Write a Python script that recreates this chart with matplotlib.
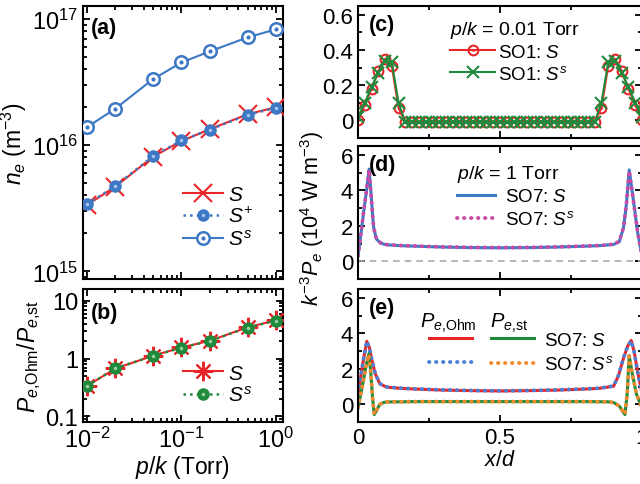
import numpy as np
import matplotlib
matplotlib.use("Agg")
import matplotlib.pyplot as plt
from matplotlib.legend_handler import HandlerTuple
from matplotlib.ticker import MultipleLocator, LogLocator, NullFormatter, FixedLocator, FixedFormatter

plt.rcParams.update({
    "font.family": ["Liberation Sans", "DejaVu Sans"],
    "mathtext.fontset": "custom",
    "mathtext.rm": "Liberation Sans",
    "mathtext.it": "Liberation Sans:italic",
    "mathtext.bf": "Liberation Sans:bold",
    "font.size": 15,
    "axes.linewidth": 1.5,
})

RED = "#e8262a"
BLUE = "#3d78c4"
GREEN = "#1f8a3c"
MAGENTA = "#c94aa4"
ORANGE = "#f5892b"

# ---- (a), (b): sweep over p/k ----
pk = [0.01, 0.02, 0.05, 0.1, 0.2, 0.5, 1.0]
ne_S = [3.36e15, 4.7e15, 8.1e15, 1.08e16, 1.34e16, 1.76e16, 2.0e16]
ne_Splus = [3.4e15, 4.75e15, 8.2e15, 1.09e16, 1.33e16, 1.74e16, 1.98e16]
ne_Ss = [1.39e16, 1.95e16, 3.34e16, 4.53e16, 5.55e16, 7.16e16, 8.3e16]
ratio_S = [0.337, 0.675, 1.12, 1.56, 2.04, 3.48, 4.6]
ratio_Ss = [0.335, 0.68, 1.11, 1.55, 2.02, 3.45, 4.55]

# ---- (c): p/k = 0.01 Torr, SO1 ----
xc = np.linspace(0, 1, 43)
c_S = [0.0, 0.09, 0.18, 0.28, 0.35, 0.31, 0.07, -0.01, -0.01, -0.01, -0.01,
       -0.01, -0.01, -0.01, -0.01, -0.01, -0.01, -0.01, -0.01, -0.01, -0.01,
       -0.01, -0.01, -0.01, -0.01, -0.01, -0.01, -0.01, -0.01, -0.01, -0.01,
       -0.01, -0.01, -0.01, -0.01, -0.01, 0.07, 0.31, 0.35, 0.28, 0.18, 0.09, 0.0]
c_Ss = [0.02, 0.1, 0.19, 0.27, 0.34, 0.33, 0.1, -0.01, -0.01, -0.01, -0.01,
        -0.01, -0.01, -0.01, -0.01, -0.01, -0.01, -0.01, -0.01, -0.01, -0.01,
        -0.01, -0.01, -0.01, -0.01, -0.01, -0.01, -0.01, -0.01, -0.01, -0.01,
        -0.01, -0.01, -0.01, -0.01, -0.01, 0.1, 0.33, 0.34, 0.27, 0.19, 0.1, 0.02]

# ---- (d): p/k = 1 Torr, SO7 ----
xd = [0, 0.01, 0.02, 0.03, 0.039, 0.045, 0.05, 0.055, 0.065, 0.08, 0.1, 0.15,
      0.2, 0.3, 0.4, 0.5, 0.6, 0.7, 0.8, 0.85, 0.9, 0.92, 0.935, 0.945, 0.955,
      0.965, 0.975, 0.985, 1.0]
d_S = [0.3, 1.5, 2.8, 4.0, 5.2, 4.0, 2.9, 1.9, 1.25, 1.02, 0.93, 0.88,
       0.85, 0.8, 0.77, 0.76, 0.77, 0.8, 0.85, 0.88, 0.95, 1.1, 1.9, 3.2, 5.15,
       4.0, 2.8, 1.6, 0.3]
d_Ss = [0.32, 1.52, 2.82, 4.0, 5.15, 3.95, 2.88, 1.9, 1.26, 1.03, 0.94, 0.89,
        0.86, 0.81, 0.78, 0.77, 0.78, 0.81, 0.86, 0.89, 0.96, 1.12, 1.92, 3.2,
        5.1, 3.95, 2.8, 1.6, 0.32]

# ---- (e): SO7 Ohmic and stochastic heating ----
xe_ohm = [0, 0.01, 0.02, 0.031, 0.04, 0.048, 0.06, 0.077, 0.1, 0.15, 0.2, 0.3,
          0.4, 0.5, 0.6, 0.7, 0.8, 0.85, 0.9, 0.917, 0.935, 0.95, 0.962, 0.972,
          0.985, 1.0]
ohm_S = [0.6, 1.6, 2.6, 3.55, 3.2, 2.55, 1.75, 1.15, 0.97, 0.9, 0.86, 0.8,
         0.77, 0.75, 0.77, 0.8, 0.86, 0.9, 1.02, 1.6, 2.6, 3.3, 3.6, 3.0,
         1.8, 0.6]
ohm_Ss = [0.62, 1.62, 2.62, 3.55, 3.2, 2.55, 1.76, 1.16, 0.98, 0.91, 0.87, 0.81,
          0.78, 0.76, 0.78, 0.81, 0.87, 0.91, 1.03, 1.62, 2.62, 3.3, 3.58, 3.0,
          1.8, 0.62]
xe_st = [0, 0.015, 0.03, 0.038, 0.045, 0.051, 0.057, 0.065, 0.077, 0.09, 0.1,
         0.2, 0.3, 0.4, 0.5, 0.6, 0.7, 0.8, 0.88, 0.9, 0.92, 0.94, 0.948, 0.955,
         0.965, 0.98, 1.0]
st_S = [-0.2, 1.0, 2.3, 2.85, 1.8, 0.4, -0.58, -0.35, 0.0, 0.1, 0.13,
        0.15, 0.15, 0.15, 0.15, 0.15, 0.15, 0.15, 0.14, 0.1, -0.1, -0.58, 0.6, 2.75,
        1.8, 0.6, -0.2]
st_Ss = [-0.18, 1.0, 2.3, 2.8, 1.8, 0.42, -0.56, -0.34, 0.0, 0.1, 0.13,
         0.15, 0.15, 0.15, 0.15, 0.15, 0.15, 0.15, 0.14, 0.1, -0.1, -0.56, 0.6, 2.7,
         1.8, 0.6, -0.18]

LEFT_TICK = 17
RIGHT_TICK = 16
TUP = {tuple: HandlerTuple(ndivide=1)}


def style(ax, size):
    ax.tick_params(which="both", direction="in", top=True, right=True, width=1.3,
                   labelsize=size)
    ax.tick_params(which="major", length=5)
    ax.tick_params(which="minor", length=3)


fig = plt.figure(figsize=(6.4, 4.85), dpi=100)
ax_a = fig.add_axes([0.1297, 0.4227, 0.3125, 0.5629])
ax_b = fig.add_axes([0.1297, 0.1278, 0.3125, 0.2742])
ax_c = fig.add_axes([0.5594, 0.7134, 0.4437, 0.2722])
ax_d = fig.add_axes([0.5594, 0.4227, 0.4437, 0.2742])
ax_e = fig.add_axes([0.5594, 0.1278, 0.4437, 0.2742])

# (a)
l_S, = ax_a.plot(pk, ne_S, color=RED, lw=1.5, marker="x", ms=13, mew=1.5, zorder=3)
l_Sp, = ax_a.plot(pk, ne_Splus, color=BLUE, lw=1.8, ls=":", marker="o", ms=8,
                  mfc=BLUE, mec=BLUE, zorder=4)
l_Sp2, = ax_a.plot(pk, ne_Splus, ls="none", marker="o", ms=2.5, mfc="#a9c6ee",
                   mec="none", zorder=5)
l_Ss, = ax_a.plot(pk, ne_Ss, color=BLUE, lw=1.5, marker="o", ms=9, mfc="white",
                  mec=BLUE, mew=1.8, zorder=3)
l_Ss2, = ax_a.plot(pk, ne_Ss, ls="none", marker="o", ms=3, mfc=BLUE, mec="none",
                   zorder=4)
ax_a.set_xscale("log")
ax_a.set_yscale("log")
ax_a.set_xlim(0.00908, 1.186)
ax_a.set_ylim(8.7e14, 1.27e17)
ax_a.set_xticklabels([])
ax_a.xaxis.set_minor_formatter(NullFormatter())
ax_a.yaxis.set_minor_locator(LogLocator(subs=np.arange(2, 10)))
ax_a.yaxis.set_minor_formatter(NullFormatter())
ax_a.set_ylabel(r"$n_e$ (m$^{-3}$)", fontsize=16.5, labelpad=2)
ax_a.text(0.04, 0.96, "(a)", transform=ax_a.transAxes, fontweight="bold",
          fontsize=15.5, va="top", ha="left")
ax_a.legend([l_S, (l_Sp, l_Sp2), (l_Ss, l_Ss2)], [r"$S$", r"$S^{+}$", r"$S^{s}$"],
            handler_map=TUP, loc="upper left", bbox_to_anchor=(0.5, 0.345),
            frameon=False, fontsize=15, borderpad=0, borderaxespad=0,
            handlelength=1.9, handletextpad=0.25, labelspacing=0.12)
style(ax_a, LEFT_TICK)

# (b)
m_S, = ax_b.plot(pk, ratio_S, color=RED, lw=1.5, marker=(8, 2, 0), ms=14, mew=1.5,
                 zorder=3)
m_Ss, = ax_b.plot(pk, ratio_Ss, color=GREEN, lw=1.8, ls=":", marker="o", ms=8,
                  mfc=GREEN, mec=GREEN, zorder=4)
m_Ss2, = ax_b.plot(pk, ratio_Ss, ls="none", marker="o", ms=2.5, mfc="#9ad2a6",
                   mec="none", zorder=5)
ax_b.set_xscale("log")
ax_b.set_yscale("log")
ax_b.set_xlim(0.00908, 1.186)
ax_b.set_ylim(0.08, 16)
ax_b.yaxis.set_major_locator(FixedLocator([0.1, 1, 10]))
ax_b.yaxis.set_major_formatter(FixedFormatter(["0.1", "1", "10"]))
ax_b.yaxis.set_minor_locator(LogLocator(subs=np.arange(2, 10)))
ax_b.yaxis.set_minor_formatter(NullFormatter())
ax_b.xaxis.set_minor_formatter(NullFormatter())
ax_b.set_xlabel(r"$p/k$ (Torr)", fontsize=16.5, labelpad=1)
ax_b.set_ylabel(r"$P_{e{,}\mathrm{Ohm}}/P_{e{,}\mathrm{st}}$", fontsize=16.5,
                labelpad=2)
ax_b.text(0.04, 0.9, "(b)", transform=ax_b.transAxes, fontweight="bold",
          fontsize=15.5, va="top", ha="left")
ax_b.legend([m_S, (m_Ss, m_Ss2)], [r"$S$", r"$S^{s}$"],
            handler_map=TUP, loc="upper left", bbox_to_anchor=(0.5, 0.44),
            frameon=False, fontsize=15, borderpad=0, borderaxespad=0,
            handlelength=1.9, handletextpad=0.25, labelspacing=0.12)
style(ax_b, LEFT_TICK)

# (c)
c1, = ax_c.plot(xc, c_S, color=RED, lw=1.5, marker="o", ms=7, mfc="none",
                mec=RED, mew=1.5)
c1b, = ax_c.plot(xc, c_S, ls="none", marker="o", ms=2, mfc=RED, mec="none")
c2, = ax_c.plot(xc, c_Ss, color=GREEN, lw=1.5, marker="x", ms=9, mew=1.5)
ax_c.set_ylim(-0.1, 0.65)
ax_c.yaxis.set_major_locator(FixedLocator([0, 0.2, 0.4, 0.6]))
ax_c.yaxis.set_major_formatter(FixedFormatter(["0", "0.2", "0.4", "0.6"]))
ax_c.yaxis.set_minor_locator(MultipleLocator(0.1))
ax_c.text(0.04, 0.94, "(c)", transform=ax_c.transAxes, fontweight="bold",
          fontsize=15.5, va="top", ha="left")
ax_c.legend([(c1, c1b), c2], [r"SO1: $S$", r"SO1: $S^{s}$"], handler_map=TUP,
            title=r"$p/k$ = 0.01 Torr", title_fontsize=14, fontsize=13.5,
            alignment="left", loc="upper left", bbox_to_anchor=(0.324, 0.9),
            frameon=False, borderpad=0, borderaxespad=0, handlelength=2.4,
            handletextpad=0.15, labelspacing=0.2)

# (d)
ax_d.axhline(0, color="#aaaaaa", lw=1.2, ls=(0, (4, 3)))
d1, = ax_d.plot(xd, d_S, color=BLUE, lw=2.2)
d2, = ax_d.plot(xd, d_Ss, color=MAGENTA, lw=2.8, ls=(0, (0.1, 1.7)),
                dash_capstyle="round")
ax_d.set_ylim(-1, 6.5)
ax_d.yaxis.set_major_locator(FixedLocator([0, 2, 4, 6]))
ax_d.yaxis.set_minor_locator(MultipleLocator(1))
ax_d.text(0.04, 0.94, "(d)", transform=ax_d.transAxes, fontweight="bold",
          fontsize=15.5, va="top", ha="left")
ax_d.legend([d1, d2], [r"SO7: $S$", r"SO7: $S^{s}$"],
            title=r"$p/k$ = 1 Torr", title_fontsize=14, fontsize=13.5,
            alignment="left", loc="upper left", bbox_to_anchor=(0.349, 0.875),
            frameon=False, borderpad=0, borderaxespad=0, handlelength=2.0,
            handletextpad=0.55, labelspacing=0.25)

# (e)
e1, = ax_e.plot(xe_ohm, ohm_S, color=RED, lw=2.2)
e2, = ax_e.plot(xe_ohm, ohm_Ss, color="#4a80d4", lw=2.8, ls=(0, (0.1, 1.7)),
                dash_capstyle="round")
e3, = ax_e.plot(xe_st, st_S, color=GREEN, lw=2.2)
e4, = ax_e.plot(xe_st, st_Ss, color=ORANGE, lw=2.8, ls=(0, (0.1, 1.7)),
                dash_capstyle="round")
ax_e.set_ylim(-1, 6.5)
ax_e.yaxis.set_major_locator(FixedLocator([0, 2, 4, 6]))
ax_e.yaxis.set_minor_locator(MultipleLocator(1))
ax_e.text(0.04, 0.94, "(e)", transform=ax_e.transAxes, fontweight="bold",
          fontsize=15.5, va="top", ha="left")
ax_e.legend([e1, e2, e3, e4], ["", "", r"SO7: $S$", r"SO7: $S^{s}$"], ncol=2,
            fontsize=13.5, loc="upper left", bbox_to_anchor=(0.25, 0.68),
            frameon=False, borderpad=0, borderaxespad=0, handlelength=2.3,
            handletextpad=0.55, labelspacing=0.35, columnspacing=0.45)
ax_e.text(0.218, 0.75, r"$P_{e{,}\mathrm{Ohm}}$", transform=ax_e.transAxes,
          fontsize=14.5, ha="left", va="center")
ax_e.text(0.465, 0.75, r"$P_{e{,}\mathrm{st}}$", transform=ax_e.transAxes,
          fontsize=14.5, ha="left", va="center")
ax_e.set_xlabel(r"$x/d$", fontsize=15.5, labelpad=1)

for ax in (ax_c, ax_d, ax_e):
    ax.set_xlim(0, 1)
    ax.xaxis.set_major_locator(FixedLocator([0, 0.5, 1]))
    ax.xaxis.set_minor_locator(FixedLocator([0.25, 0.75]))
    style(ax, RIGHT_TICK)
ax_c.set_xticklabels([])
ax_d.set_xticklabels([])
ax_e.set_xticklabels(["0", "0.5", "1"])

fig.text(0.4875, 0.55, r"$k^{-3}P_e$ (10$^4$ W m$^{-3}$)", rotation=90,
         fontsize=15.5, ha="center", va="center")

fig.savefig("out.png", dpi=100)
